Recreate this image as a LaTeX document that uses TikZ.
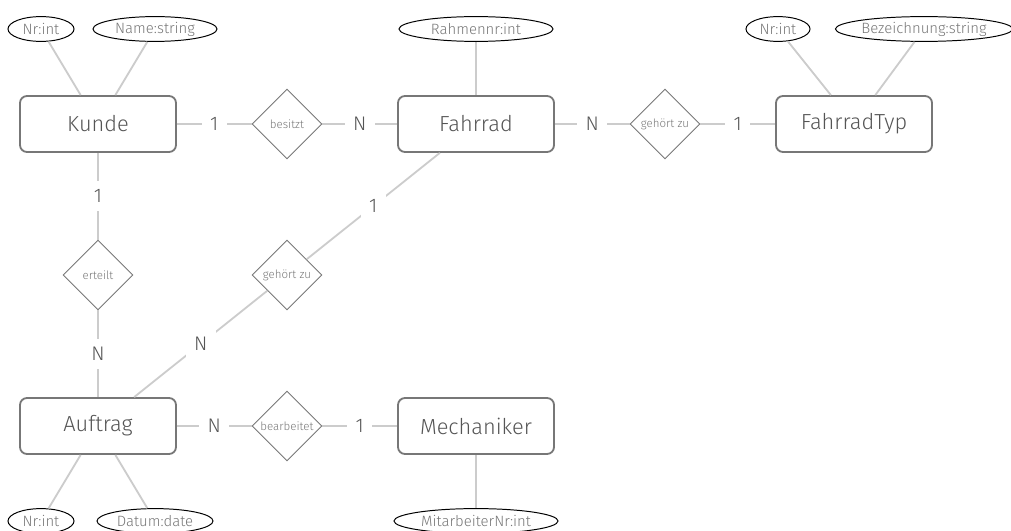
\documentclass[tikz,border=0pt]{standalone}
\usepackage{fontspec}
\setmainfont{Fira Sans}[UprightFont=* Light]
\usepackage{tikz}
\usetikzlibrary{shapes.geometric}
\definecolor{boxgray}{HTML}{777777}
\definecolor{txtgray}{HTML}{555555}
\definecolor{linegray}{HTML}{CCCCCC}
\begin{document}
\begin{tikzpicture}[x=0.025cm,y=-0.025cm]
    \tikzstyle{entity}=[draw=boxgray,line width=1.3pt,rounded corners=5pt,minimum width=3.9cm,minimum height=1.4cm,text=txtgray,font=\fontsize{15.5}{18}\selectfont]
    \tikzstyle{rel}=[diamond,draw=boxgray,line width=0.6pt,inner sep=0pt,minimum width=1.75cm,minimum height=1.75cm,text=boxgray,font=\fontsize{8.2}{10}\selectfont]
    \tikzstyle{attr}=[ellipse,draw=black,line width=0.7pt,inner sep=0pt,minimum height=0.62cm,text=boxgray,font=\fontsize{10.6}{12}\selectfont]
    \tikzstyle{conn}=[draw=linegray,line width=1.3pt]
    \tikzstyle{card}=[fill=white,inner sep=6pt,text=txtgray,font=\fontsize{14}{16}\selectfont]
    \useasboundingbox (0,0) rectangle (1011,531);
    \node [entity] (kunde) at (98,124) {Kunde};
    \node [entity] (fahrrad) at (476,124) {Fahrrad};
    \node [entity] (typ) at (854,124) {FahrradTyp};
    \node [entity] (auftrag) at (98,426) {Auftrag};
    \node [entity] (mech) at (476,426) {Mechaniker};
    \node [rel] (besitzt) at (287,124) {besitzt};
    \node [rel] (gehoert) at (665,124) {gehört zu};
    \node [rel] (erteilt) at (98,275) {erteilt};
    \node [rel] (gehoertB) at (287,275) {gehört zu};
    \node [rel] (bearb) at (287,426) {bearbeitet};
    \node [attr,minimum width=1.65cm] (kNr) at (41,29) {Nr:int};
    \node [attr,minimum width=3.1cm] (kName) at (155,29) {Name:string};
    \node [attr,minimum width=3.85cm] (fRahmen) at (476,29) {Rahmennr:int};
    \node [attr,minimum width=1.6cm] (tNr) at (778,29) {Nr:int};
    \node [attr,minimum width=4.3cm] (tBez) at (924,29) {Bezeichnung:string};
    \node [attr,minimum width=1.65cm] (aNr) at (41,521) {Nr:int};
    \node [attr,minimum width=2.9cm] (aDatum) at (155,521) {Datum:date};
    \node [attr,minimum width=4.1cm] (mNr) at (476,521) {MitarbeiterNr:int};
    \draw [conn] (kNr) -- (kunde);
    \draw [conn] (kName) -- (kunde);
    \draw [conn] (fRahmen) -- (fahrrad);
    \draw [conn] (tNr) -- (typ);
    \draw [conn] (tBez) -- (typ);
    \draw [conn] (aNr) -- (auftrag);
    \draw [conn] (aDatum) -- (auftrag);
    \draw [conn] (mNr) -- (mech);
    \draw [conn] (kunde) -- node [card] {1} (besitzt);
    \draw [conn] (besitzt) -- node [card] {N} (fahrrad);
    \draw [conn] (fahrrad) -- node [card] {N} (gehoert);
    \draw [conn] (gehoert) -- node [card] {1} (typ);
    \draw [conn] (kunde) -- node [card] {1} (erteilt);
    \draw [conn] (erteilt) -- node [card] {N} (auftrag);
    \draw [conn] (fahrrad) -- node [card] {1} (gehoertB);
    \draw [conn] (gehoertB) -- node [card] {N} (auftrag);
    \draw [conn] (auftrag) -- node [card] {N} (bearb);
    \draw [conn] (bearb) -- node [card] {1} (mech);
\end{tikzpicture}
\end{document}
